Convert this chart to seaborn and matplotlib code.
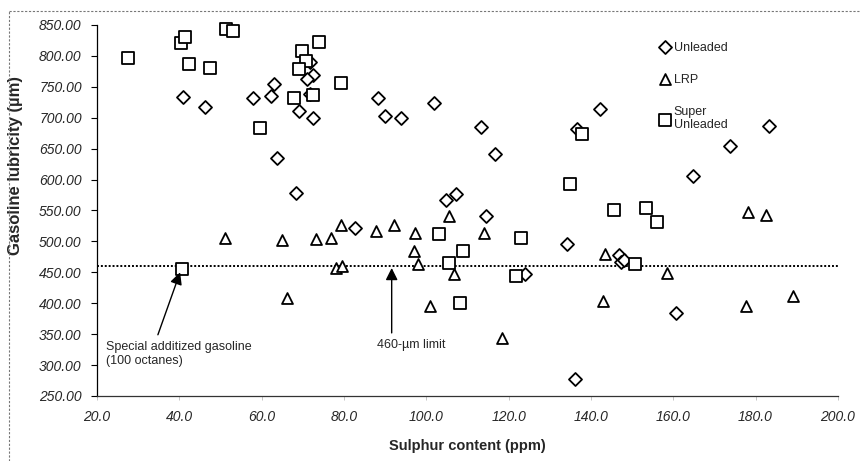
import pandas as pd
import matplotlib.pyplot as plt
import matplotlib.ticker as mticker
from matplotlib.lines import Line2D
import seaborn as sns

# values (sulphur ppm, lubricity um)
unleaded_x = [41.0, 46.2, 57.8, 62.4, 63.1, 63.8, 68.3, 69.1, 71.7, 72.5, 71.1, 71.7,
              72.5, 88.2, 90.0, 93.8, 101.9, 104.8, 107.2, 113.3, 116.7, 114.5, 82.7,
              134.1, 136.7, 142.3, 146.8, 147.4, 148.0, 124.1, 136.1, 160.6, 164.7,
              173.8, 183.2]
unleaded_y = [733, 718, 732, 735, 754, 635, 579, 710, 790, 769, 762, 739,
              699, 731, 702, 700, 724, 567, 576, 685, 641, 541, 522,
              496, 682, 714, 478, 467, 470, 447, 277, 384, 606,
              655, 687]

lrp_x = [51.1, 64.9, 66.1, 73.1, 76.8, 79.4, 78.0, 79.6, 87.9, 92.1, 97.2, 97.1, 98.1,
         101.0, 105.6, 106.7, 114.1, 118.4, 143.4, 143.0, 158.4, 178.2, 182.5, 177.6,
         189.0]
lrp_y = [506, 503, 408, 504, 506, 526, 457, 460, 517, 527, 514, 484, 464,
         396, 541, 448, 513, 344, 479, 403, 449, 548, 542, 395,
         411]

super_x = [27.6, 40.4, 41.5, 42.3, 47.4, 51.3, 53.1, 59.7, 73.9, 69.9, 70.9, 69.1, 79.3,
           67.9, 72.5, 134.9, 137.9, 145.6, 153.3, 156.1, 103.2, 109.0, 105.5, 108.2,
           123.0, 121.7, 150.8, 40.7]
super_y = [797, 820, 831, 787, 781, 843, 840, 684, 823, 808, 792, 779, 756,
           731, 736, 593, 674, 551, 554, 531, 512, 485, 465, 401,
           505, 444, 463, 456]

limit = 460

df = pd.concat([
    pd.DataFrame({'sulphur': unleaded_x, 'lubricity': unleaded_y, 'fuel': 'Unleaded'}),
    pd.DataFrame({'sulphur': lrp_x, 'lubricity': lrp_y, 'fuel': 'LRP'}),
    pd.DataFrame({'sulphur': super_x, 'lubricity': super_y, 'fuel': 'Super\nUnleaded'}),
])

sns.set_style('white')
plt.rcParams['font.family'] = ['Liberation Sans', 'DejaVu Sans']

fig = plt.figure(figsize=(8.62, 4.61), dpi=100)
ax = fig.add_axes([0.1125, 0.141, 0.8595, 0.805])

markers = {'Unleaded': 'D', 'LRP': '^', 'Super\nUnleaded': 's'}
sizes = {'Unleaded': 44, 'LRP': 62, 'Super\nUnleaded': 66}
for name, marker in markers.items():
    sub = df[df['fuel'] == name]
    sns.scatterplot(data=sub, x='sulphur', y='lubricity', marker=marker, s=sizes[name],
                    color='white', edgecolor='black', linewidth=1.3, ax=ax, zorder=3,
                    label=name, clip_on=False)

ax.axhline(limit, color='black', linestyle=(0, (1, 1)), linewidth=1.4, zorder=2)

arrow = dict(arrowstyle='-|>', color='black', lw=1, mutation_scale=18, shrinkA=0, shrinkB=0)
ax.text(22.2, 318, 'Special additized gasoline\n(100 octanes)', ha='left', va='center',
        fontsize=9, linespacing=1.25)
ax.annotate('', xy=(40.2, 450), xytext=(34.8, 349), arrowprops=arrow)
ax.text(96.4, 332, '460-\u00b5m limit', ha='center', va='center', fontsize=9)
ax.annotate('', xy=(91.6, 457), xytext=(91.6, 352), arrowprops=arrow)

ax.set_xlim(20, 200)
ax.set_ylim(250, 850)
ax.set_xticks(range(20, 201, 20))
ax.set_yticks(range(250, 851, 50))
ax.xaxis.set_major_formatter(mticker.FormatStrFormatter('%.1f'))
ax.yaxis.set_major_formatter(mticker.FormatStrFormatter('%.2f'))
ax.tick_params(axis='y', left=True, length=4, width=0.8, color='black', labelsize=10, pad=7)
ax.tick_params(axis='x', bottom=True, length=3, width=0.6, color='#bbbbbb', labelsize=10, pad=7)
for lab in ax.get_xticklabels() + ax.get_yticklabels():
    lab.set_fontstyle('italic')

for side in ['top', 'right']:
    ax.spines[side].set_visible(False)
ax.spines['left'].set_color('black')
ax.spines['bottom'].set_color('#333333')
ax.spines['left'].set_linewidth(0.9)
ax.spines['bottom'].set_linewidth(0.9)

ax.set_xlabel('Sulphur content (ppm)', fontsize=10.5, fontweight='bold', labelpad=11)
ax.set_ylabel('Gasoline lubricity (\u00b5m)', fontsize=12, fontweight='bold')
ax.yaxis.set_label_coords(-0.1, 0.62)

ax.legend(loc='upper left', bbox_to_anchor=(0.748, 0.972), frameon=False, fontsize=9,
          labelspacing=1.6, handletextpad=0.1, handlelength=1.2, borderpad=0)

# dotted frame around the figure (top and left edges visible)
fig.add_artist(Line2D([9 / 862, 1.0], [1 - 11 / 461, 1 - 11 / 461], transform=fig.transFigure,
                      color='#777777', linestyle=(0, (2, 1.5)), linewidth=0.8))
fig.add_artist(Line2D([9 / 862, 9 / 862], [0.0, 1 - 11 / 461], transform=fig.transFigure,
                      color='#777777', linestyle=(0, (2, 1.5)), linewidth=0.8))

plt.savefig('out.png', dpi=100)
